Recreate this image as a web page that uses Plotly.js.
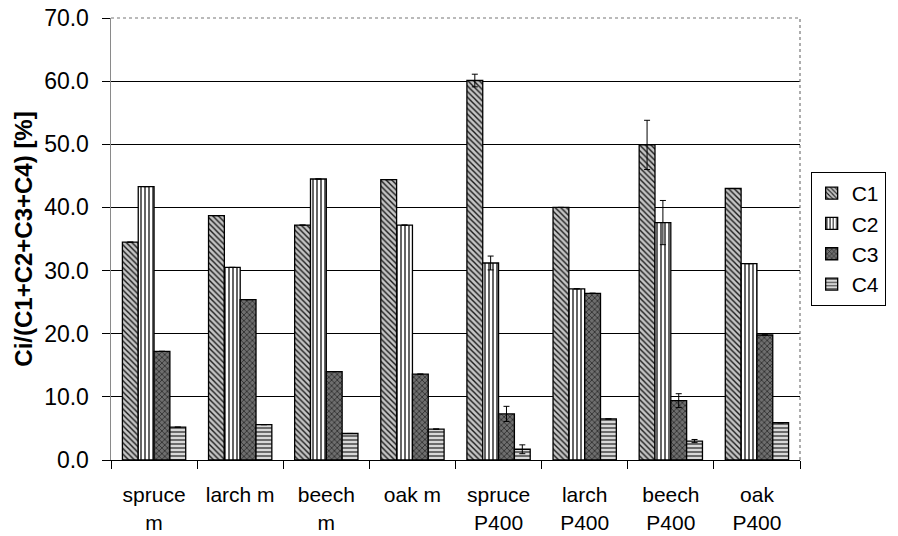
<!DOCTYPE html>
<html>
<head>
<meta charset="utf-8">
<script src="https://cdn.plot.ly/plotly-3.0.1.min.js"></script>
<style>
html,body{margin:0;padding:0;background:#fff;}
#chart{width:898px;height:536px;}
</style>
</head>
<body>
<div id="chart"></div>
<script>
// ---- data ----
const categories = ["spruce<br>m", "larch m", "beech<br>m", "oak m", "spruce<br>P400", "larch<br>P400", "beech<br>P400", "oak<br>P400"];
const seriesNames = ["C1", "C2", "C3", "C4"];
const C1 = [34.5, 38.7, 37.2, 44.4, 60.1, 40.0, 49.9, 43.0];
const C2 = [43.3, 30.5, 44.5, 37.2, 31.2, 27.1, 37.6, 31.1];
const C3 = [17.2, 25.4, 14.0, 13.6, 7.3, 26.4, 9.4, 19.8];
const C4 = [5.2, 5.6, 4.2, 4.9, 1.7, 6.5, 3.0, 5.9];
const C1err = [null, null, null, null, 1.0, null, 3.9, null];
const C2err = [null, null, null, null, 1.1, null, 3.5, null];
const C3err = [null, null, null, null, 1.2, null, 1.1, null];
const C4err = [null, null, null, null, 0.7, null, 0.25, null];
const yTicks = [0, 10, 20, 30, 40, 50, 60, 70];
const yTickText = ["0.0", "10.0", "20.0", "30.0", "40.0", "50.0", "60.0", "70.0"];

const values = [C1, C2, C3, C4];
const errs = [C1err, C2err, C3err, C4err];
const patterns = [
  {shape: "\\", bgcolor: "#c4c4c4", fgcolor: "#1a1a1a", size: 4, solidity: 0.35},
  {shape: "|", bgcolor: "#ffffff", fgcolor: "#222222", size: 4, solidity: 0.35},
  {shape: "x", bgcolor: "#6e6e6e", fgcolor: "#1a1a1a", size: 4, solidity: 0.3},
  {shape: "-", bgcolor: "#d8d8d8", fgcolor: "#222222", size: 4, solidity: 0.3}
];

const traces = seriesNames.map((name, i) => ({
  type: "bar",
  name: name,
  x: categories,
  y: values[i],
  legendgroup: name,
  marker: {
    color: patterns[i].bgcolor,
    line: {color: "#000", width: 1.3},
    pattern: patterns[i]
  },
  error_y: {
    type: "data",
    array: errs[i],
    visible: true,
    color: "#000",
    thickness: 1,
    width: 3
  },
  hoverinfo: "x+y+name"
}));

const layout = {
  width: 898,
  height: 536,
  margin: {l: 111, r: 68, t: 18, b: 76},
  paper_bgcolor: "#fff",
  plot_bgcolor: "#fff",
  barmode: "group",
  bargap: 0.265,
  bargroupgap: 0,
  font: {family: "Liberation Sans, Arial, sans-serif", color: "#000", size: 18},
  xaxis: {
    type: "category",
    tickson: "boundaries",
    ticks: "outside",
    ticklen: 8,
    tickcolor: "#000",
    tickwidth: 1,
    showline: true,
    linecolor: "#000",
    linewidth: 1,
    showgrid: false,
    tickfont: {size: 21},
    ticklabelstandoff: 16,
    automargin: false
  },
  yaxis: {
    range: [0, 70],
    tickvals: yTicks,
    ticktext: yTickText,
    ticks: "outside",
    ticklen: 8,
    tickcolor: "#000",
    showline: true,
    linecolor: "#8a8a8a",
    linewidth: 1.5,
    showgrid: true,
    gridcolor: "#000",
    gridwidth: 1,
    zeroline: false,
    tickfont: {size: 23},
    ticklabelstandoff: 8,
    automargin: false,
    title: {text: "Ci/(C1+C2+C3+C4) [%]", font: {size: 24, family: "Liberation Sans, Arial, sans-serif", weight: "bold"}, standoff: 4}
  },
  legend: {
    x: 1.0155,
    xanchor: "left",
    y: 0.5,
    yanchor: "middle",
    bgcolor: "#fff",
    bordercolor: "#000",
    borderwidth: 1,
    font: {size: 21},
    tracegroupgap: 5,
    traceorder: "normal"
  },
  shapes: [
    {type: "line", xref: "paper", yref: "paper", x0: 0, x1: 1, y0: 1, y1: 1, line: {color: "#777", width: 1.2, dash: "dot"}},
    {type: "line", xref: "paper", yref: "paper", x0: 1, x1: 1, y0: 0, y1: 1, line: {color: "#777", width: 1.2, dash: "dot"}}
  ],
  showlegend: true
};

Plotly.newPlot("chart", traces, layout, {displayModeBar: false, staticPlot: true});
</script>
</body>
</html>
